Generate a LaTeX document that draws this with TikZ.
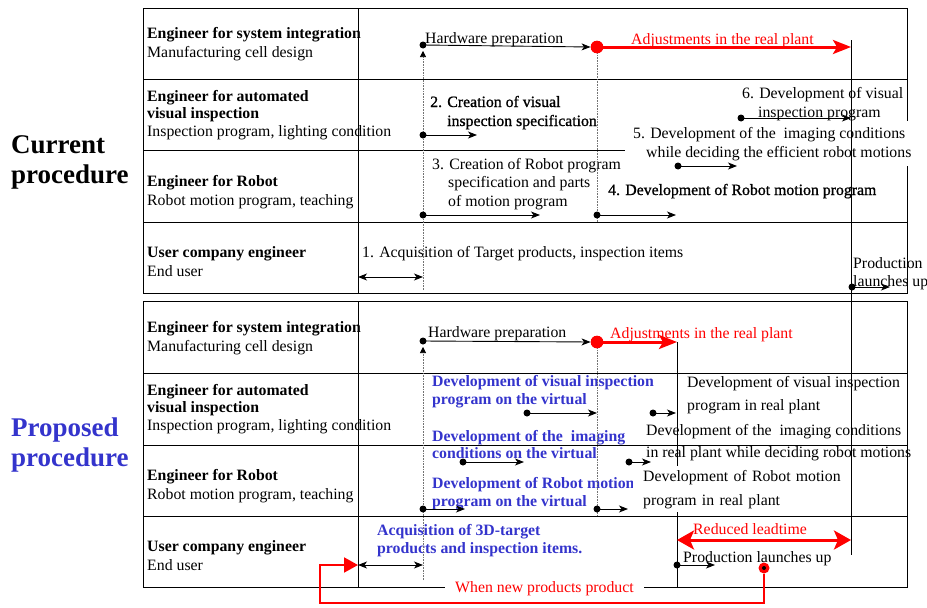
\documentclass[tikz,border=0pt]{standalone}
\usepackage{fontspec}
\setmainfont{Liberation Serif}
\newfontface\medfont{Liberation Serif}[FakeBold=1]
\usetikzlibrary{arrows.meta}
\definecolor{pblue}{RGB}{52,52,204}
\begin{document}
\fontsize{15.8}{19}\selectfont
\begin{tikzpicture}[x=1pt,y=-1pt,
  tline/.style={line width=1pt, draw=black},
  flow/.style={line width=0.9pt, -{Stealth[length=9pt,width=7pt,inset=2.5pt]}},
  dbl/.style={line width=0.9pt, {Stealth[length=9pt,width=7pt,inset=2.5pt]}-{Stealth[length=9pt,width=7pt,inset=2.5pt]}},
  dotn/.style={circle, fill=black, inner sep=0pt, minimum size=7pt},
  reddot/.style={circle, fill=red, inner sep=0pt, minimum size=12.5pt},
  txt/.style={anchor=base west, inner sep=0pt, align=left},
  vtxt/.style={txt, text=pblue, font=\bfseries},
  guide/.style={densely dotted, line width=0.6pt, draw=black!55},
  uptip/.style={-{Triangle[length=6pt,width=6pt,color=black]}},
  redbig/.style={draw=red, line width=3pt, -{Stealth[length=18pt,width=14pt,inset=4pt]}},
  reddbl/.style={draw=red, line width=3pt, {Stealth[length=17pt,width=19pt,inset=4pt]}-{Stealth[length=17pt,width=19pt,inset=4pt]}},
  redloop/.style={draw=red, line width=2pt, -{Triangle[length=14pt,width=15pt]}}
]
\useasboundingbox (0,0) rectangle (927,608);

% ---------------- left labels (base = last line)
\node[txt, font=\fontsize{27}{30}\selectfont\bfseries] (cur) at (11,183) {Current\\procedure};
\node[txt, font=\fontsize{27}{30}\selectfont\bfseries, text=pblue] (prop) at (11,466) {Proposed\\procedure};

% ---------------- top table
\draw[tline] (143,8) rectangle (907,293);
\draw[tline] (358,8) -- (358,293);
\foreach \yy in {79,150,222} \draw[tline] (143,\yy) -- (907,\yy);

\node[txt] (h11) at (147,57) {\textbf{Engineer for system integration}\\Manufacturing cell design};
\node[txt] (h12) at (147,136) {\textbf{Engineer for automated}\\[-1.5pt]\textbf{visual inspection}\\[-1.5pt]Inspection program, lighting condition};
\node[txt] (h13) at (147,205) {\textbf{Engineer for Robot}\\Robot motion program, teaching};
\node[txt] (h14) at (147,276) {\textbf{User company engineer}\\End user};

\node[txt] (hw1) at (425,43) {Hardware preparation};
\node[txt, text=red] (adj1) at (631,44) {Adjustments in the real plant};
\node[txt, font=\medfont] (t2) at (430,126) {2. Creation of visual\\\hspace*{17pt}inspection specification};
\node[txt] (t6) at (742,117) {6. Development of visual\\\hspace*{16pt}inspection program};
\node[txt, fill=white, inner xsep=8pt, inner ysep=6pt] (t5) at (625,157) {5. Development of the\ \ imaging conditions\\\hspace*{13pt}while deciding the efficient robot motions};
\node[txt] (t3) at (432,206) {3. Creation of Robot program\\[-0.5pt]\hspace*{16pt}specification and parts\\[-0.5pt]\hspace*{16pt}of motion program};
\node[txt, font=\medfont] (t4) at (608,195) {4. Development of Robot motion program};
\node[txt] (t1) at (362,257) {1. Acquisition of Target products, inspection items};
\node[txt] (tp1) at (853,286) {Production\\[-1pt]launches up};

% ---------------- bottom table
\draw[tline] (143,301) rectangle (907,587);
\draw[tline] (358,301) -- (358,587);
\foreach \yy in {373,445,516} \draw[tline] (143,\yy) -- (907,\yy);
\draw[tline] (677,342) -- (677,587);

\node[txt] (h21) at (147,351) {\textbf{Engineer for system integration}\\Manufacturing cell design};
\node[txt] (h22) at (147,430) {\textbf{Engineer for automated}\\[-1.5pt]\textbf{visual inspection}\\[-1.5pt]Inspection program, lighting condition};
\node[txt] (h23) at (147,499) {\textbf{Engineer for Robot}\\Robot motion program, teaching};
\node[txt] (h24) at (147,570) {\textbf{User company engineer}\\End user};

\node[txt] (hw2) at (428,337) {Hardware preparation};
\node[txt, text=red] (adj2) at (610,338) {Adjustments in the real plant};
\node[vtxt] (v1) at (432,404.5) {Development of visual inspection\\[-0.5pt]program on the virtual};
\node[txt] (r1) at (687,410) {Development of visual inspection\\[4pt]program in real plant};
\node[vtxt] (v2) at (432,458.5) {Development of the\ \ imaging\\[-1.5pt]conditions on the virtual};
\node[txt] (r2) at (646,457) {Development of the\ \ imaging conditions\\[3pt]in real plant while deciding robot motions};
\node[vtxt] (v3) at (432,506) {Development of Robot motion\\[-1pt]program on the virtual};
\node[txt, fill=white, inner xsep=10pt, inner ysep=4pt, text width=205pt] (r3) at (633,481) {Development of Robot motion\\[5pt]program in real plant};
\node[vtxt] (v4) at (377,553) {Acquisition of 3D-target\\[-1pt]products and inspection items.};
\node[txt, text=red] (lead) at (693,534) {Reduced leadtime};
\node[txt] (prod2) at (683,562) {Production launches up};
\node[txt, text=red, fill=white, inner xsep=10pt, inner ysep=3pt] (when) at (445,592) {When new products product};

% ---------------- long vertical marker
\coordinate (vt) at (851,40);
\coordinate (vb) at (851,555);
\draw[tline] (vt) -- (vb);

% ---------------- top flows
\coordinate (g1b) at (423,290);
\coordinate (g1t) at (423,51);
\draw[guide, uptip] (g1b) -- (g1t);
\node[dotn] (d1) at (423,45) {};
\node[reddot] (rd1) at (597,47) {};
\coordinate (g2b) at (597,222);
\draw[guide] (rd1.center) -- (g2b);
\draw[flow] (d1.center) -- (rd1.west);
\coordinate (e1) at (851,47);
\draw[redbig] (rd1.center) -- (e1);
\node[reddot] at (rd1) {};

\node[dotn] (d2s) at (423,135) {};
\coordinate (d2e) at (477,135);
\draw[flow] (d2s.center) -- (d2e);

\node[dotn] (d6s) at (741,118) {};
\coordinate (d6e) at (851,118);
\draw[flow] (d6s.center) -- (d6e);

\node[dotn] (d5s) at (678,166) {};
\coordinate (d5e) at (737,166);
\draw[flow] (d5s.center) -- (d5e);

\node[dotn] (d3s) at (423,215) {};
\coordinate (d3e) at (540,215);
\draw[flow] (d3s.center) -- (d3e);

\node[dotn] (d4s) at (597,215) {};
\coordinate (d4e) at (676,215);
\draw[flow] (d4s.center) -- (d4e);

\coordinate (a1l) at (358,277);
\coordinate (a1r) at (423,277);
\draw[dbl] (a1l) -- (a1r);

\node[dotn] (dps) at (852,287) {};
\coordinate (dpe) at (890,287);
\draw[flow] (dps.center) -- (dpe);

% ---------------- bottom flows
\coordinate (g3b) at (423,580);
\coordinate (g3t) at (423,347);
\draw[guide, uptip] (g3b) -- (g3t);
\node[dotn] (e1s) at (423,341) {};
\node[reddot] (rd2) at (597,342) {};
\coordinate (g4b) at (597,516);
\draw[guide] (rd2.center) -- (g4b);
\draw[flow] (e1s.center) -- (rd2.west);
\coordinate (e2) at (677,342);
\draw[redbig] (rd2.center) -- (e2);
\node[reddot] at (rd2) {};

\node[dotn] (b1s) at (527,413) {};
\coordinate (b1e) at (597,413);
\draw[flow] (b1s.center) -- (b1e);
\node[dotn] (b2s) at (653,413) {};
\coordinate (b2e) at (676,413);
\draw[flow] (b2s.center) -- (b2e);

\node[dotn] (b3s) at (463,462) {};
\coordinate (b3e) at (524,462);
\draw[flow] (b3s.center) -- (b3e);
\node[dotn] (b4s) at (629,462) {};
\coordinate (b4e) at (651,462);
\draw[flow] (b4s.center) -- (b4e);

\node[dotn] (b5s) at (423,509) {};
\coordinate (b5e) at (465,509);
\draw[flow] (b5s.center) -- (b5e);
\node[dotn] (b6s) at (597,509) {};
\coordinate (b6e) at (628,509);
\draw[flow] (b6s.center) -- (b6e);

\coordinate (a2l) at (358,565);
\coordinate (a2r) at (423,565);
\draw[dbl] (a2l) -- (a2r);

\coordinate (l1) at (677,540);
\coordinate (l2) at (851,540);
\draw[reddbl] (l1) -- (l2);

\node[dotn] (b7s) at (677,565) {};
\coordinate (b7e) at (715,565);
\draw[flow] (b7s.center) -- (b7e);

\node[circle, fill=red, inner sep=0pt, minimum size=11pt] (ring) at (764,568) {};
\node[dotn, minimum size=4pt] (ringc) at (ring) {};
\coordinate (cl) at (320,603);
\draw[redloop] (ring.south) |- (cl) |- (a2l);

\end{tikzpicture}
\end{document}
